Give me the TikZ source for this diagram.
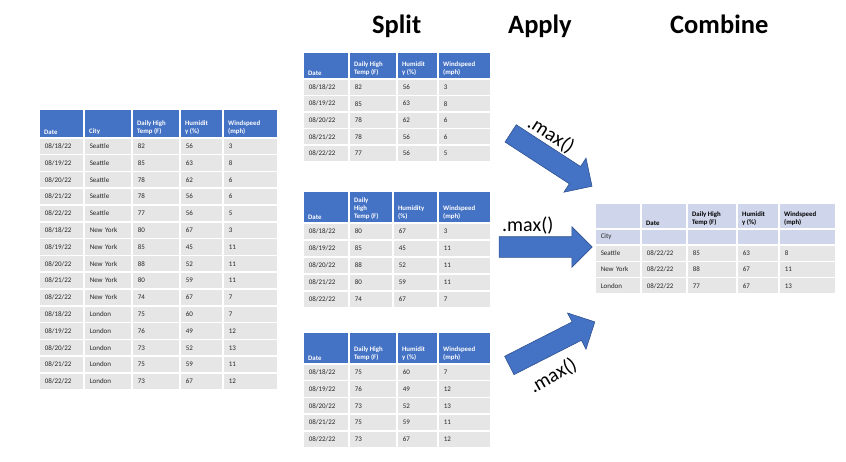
\documentclass[tikz,border=0pt]{standalone}
\usepackage{fontspec}
\setmainfont{Carlito}
\usetikzlibrary{shapes.arrows}
\definecolor{headblue}{HTML}{4472C4}
\definecolor{rowgray}{HTML}{E7E6E6}
\definecolor{headlav}{HTML}{CFD5EA}
\definecolor{arrowline}{HTML}{2F528F}
\begin{document}
\begin{tikzpicture}[x=1pt, y=-1pt,
	cell/.style={rectangle, fill=rowgray, draw=white, line width=1.5pt, anchor=north west, minimum height=16.8, inner ysep=0pt, inner xsep=6pt, align=left, text=black!85, font=\fontsize{7}{8}\selectfont},
	headcell/.style={rectangle, fill=headblue, draw=white, line width=1.5pt, anchor=north west, inner sep=0pt},
	headtext/.style={anchor=south west, inner xsep=6pt, inner ysep=3.5pt, align=left, text=white, font=\bfseries\fontsize{6.8}{8}\selectfont},
	bigarrow/.style={single arrow, fill=headblue, draw=arrowline, line width=0.6pt, inner sep=0pt, inner ysep=10pt, single arrow head extend=10pt, single arrow tip angle=90, single arrow head indent=0pt},
	maxlabel/.style={inner sep=0pt, font=\fontsize{20}{24}\selectfont},
	title/.style={inner sep=0pt, anchor=base west, font=\bfseries\fontsize{26.5}{30}\selectfont}]
	\useasboundingbox (0,0) rectangle (846,461);
	\node[title] (split) at (372,33) {Split};
	\node[title] (apply) at (508,33) {Apply};
	\node[title] (combine) at (670,33) {Combine};
	% all cities
	\foreach \x/\w/\txt [count=\col] in {38/45/Date, 83/48/City, 131/48/{Daily High\\Temp (F)}, 179/43/{Humidit\\y (\%)}, 222/55/{Windspeed\\(mph)}}{
		\node[headcell, minimum width=\w, minimum height=29] (all-h\col) at (\x,108) {};
		\node[headtext] (all-t\col) at (all-h\col.south west) {\txt};
	}
	\foreach \dd/\cy/\tp/\hm/\ws [count=\row from 0] in {18/Seattle/82/56/3, 19/Seattle/85/63/8, 20/Seattle/78/62/6, 21/Seattle/78/56/6, 22/Seattle/77/56/5, 18/New York/80/67/3, 19/New York/85/45/11, 20/New York/88/52/11, 21/New York/80/59/11, 22/New York/74/67/7, 18/London/75/60/7, 19/London/76/49/12, 20/London/73/52/13, 21/London/75/59/11, 22/London/73/67/12}
		\foreach \x/\w/\txt [count=\col] in {38/45/{08/\dd/22}, 83/48/\cy, 131/48/\tp, 179/43/\hm, 222/55/\ws}
			\node[cell, text width=\w pt-12pt] (all-\row-\col) at (\x,{137+16.8*\row}) {\txt};
	% split: seattle
	\foreach \x/\w/\txt [count=\col] in {302/46/Date, 348/48/{Daily High\\Temp (F)}, 396/41/{Humidit\\y (\%)}, 437/53/{Windspeed\\(mph)}}{
		\node[headcell, minimum width=\w, minimum height=27] (sea-h\col) at (\x,51) {};
		\node[headtext] (sea-t\col) at (sea-h\col.south west) {\txt};
	}
	\foreach \dd/\tp/\hm/\ws [count=\row from 0] in {18/82/56/3, 19/85/63/8, 20/78/62/6, 21/78/56/6, 22/77/56/5}
		\foreach \x/\w/\txt [count=\col] in {302/46/{08/\dd/22}, 348/48/\tp, 396/41/\hm, 437/53/\ws}
			\node[cell, minimum height=16.6, text width=\w pt-12pt] (sea-\row-\col) at (\x,{78+16.6*\row}) {\txt};
	% split: new york
	\foreach \x/\w/\txt [count=\col] in {302/46/Date, 348/44/{Daily\\High\\Temp (F)}, 392/45/{Humidity\\(\%)}, 437/53/{Windspeed\\(mph)}}{
		\node[headcell, minimum width=\w, minimum height=32] (nyc-h\col) at (\x,190) {};
		\node[headtext] (nyc-t\col) at (nyc-h\col.south west) {\txt};
	}
	\foreach \dd/\tp/\hm/\ws [count=\row from 0] in {18/80/67/3, 19/85/45/11, 20/88/52/11, 21/80/59/11, 22/74/67/7}
		\foreach \x/\w/\txt [count=\col] in {302/46/{08/\dd/22}, 348/44/\tp, 392/45/\hm, 437/53/\ws}
			\node[cell, minimum height=17, text width=\w pt-12pt] (nyc-\row-\col) at (\x,{222+17*\row}) {\txt};
	% split: london
	\foreach \x/\w/\txt [count=\col] in {302/46/Date, 348/48/{Daily High\\Temp (F)}, 396/41/{Humidit\\y (\%)}, 437/53/{Windspeed\\(mph)}}{
		\node[headcell, minimum width=\w, minimum height=32] (lon-h\col) at (\x,331) {};
		\node[headtext] (lon-t\col) at (lon-h\col.south west) {\txt};
	}
	\foreach \dd/\tp/\hm/\ws [count=\row from 0] in {18/75/60/7, 19/76/49/12, 20/73/52/13, 21/75/59/11, 22/73/67/12}
		\foreach \x/\w/\txt [count=\col] in {302/46/{08/\dd/22}, 348/48/\tp, 396/41/\hm, 437/53/\ws}
			\node[cell, text width=\w pt-12pt] (lon-\row-\col) at (\x,{363+16.8*\row}) {\txt};
	% combined result
	\foreach \x/\w/\txt [count=\col] in {594/46/{}, 640/46/Date, 686/50/{Daily High\\Temp (F)}, 736/42/{Humidit\\y (\%)}, 778/57/{Windspeed\\(mph)}}{
		\node[headcell, fill=headlav, minimum width=\w, minimum height=26] (res-h\col) at (\x,202) {};
		\node[headtext, text=black] (res-t\col) at (res-h\col.south west) {\txt};
	}
	\foreach \x/\w/\txt [count=\col] in {594/46/City, 640/46/{}, 686/50/{}, 736/42/{}, 778/57/{}}
		\node[cell, fill=headlav, minimum height=16.3, text width=\w pt-12pt] (res-c\col) at (\x,228) {\txt};
	\foreach \cy/\tp/\hm/\ws [count=\row from 1] in {Seattle/85/63/8, New York/88/67/11, London/77/67/13}
		\foreach \x/\w/\txt [count=\col] in {594/46/\cy, 640/46/{08/22/22}, 686/50/\tp, 736/42/\hm, 778/57/\ws}
			\node[cell, minimum height=16.3, text width=\w pt-12pt] (res-\row-\col) at (\x,{228+16.3*\row}) {\txt};
	% apply arrows
	\node[bigarrow, minimum height=97, rotate=-33] (arr-sea) at (547,157) {};
	\node[bigarrow, minimum height=93] (arr-nyc) at (540.5,247) {};
	\node[bigarrow, minimum height=96, rotate=27] (arr-lon) at (547.5,346) {};
	\node[maxlabel, rotate=-33] (max-sea) at (551,135) {.max()};
	\node[maxlabel, anchor=base west] (max-nyc) at (502,231) {.max()};
	\node[maxlabel, rotate=30] (max-lon) at (553,376) {.max()};
\end{tikzpicture}
\end{document}
